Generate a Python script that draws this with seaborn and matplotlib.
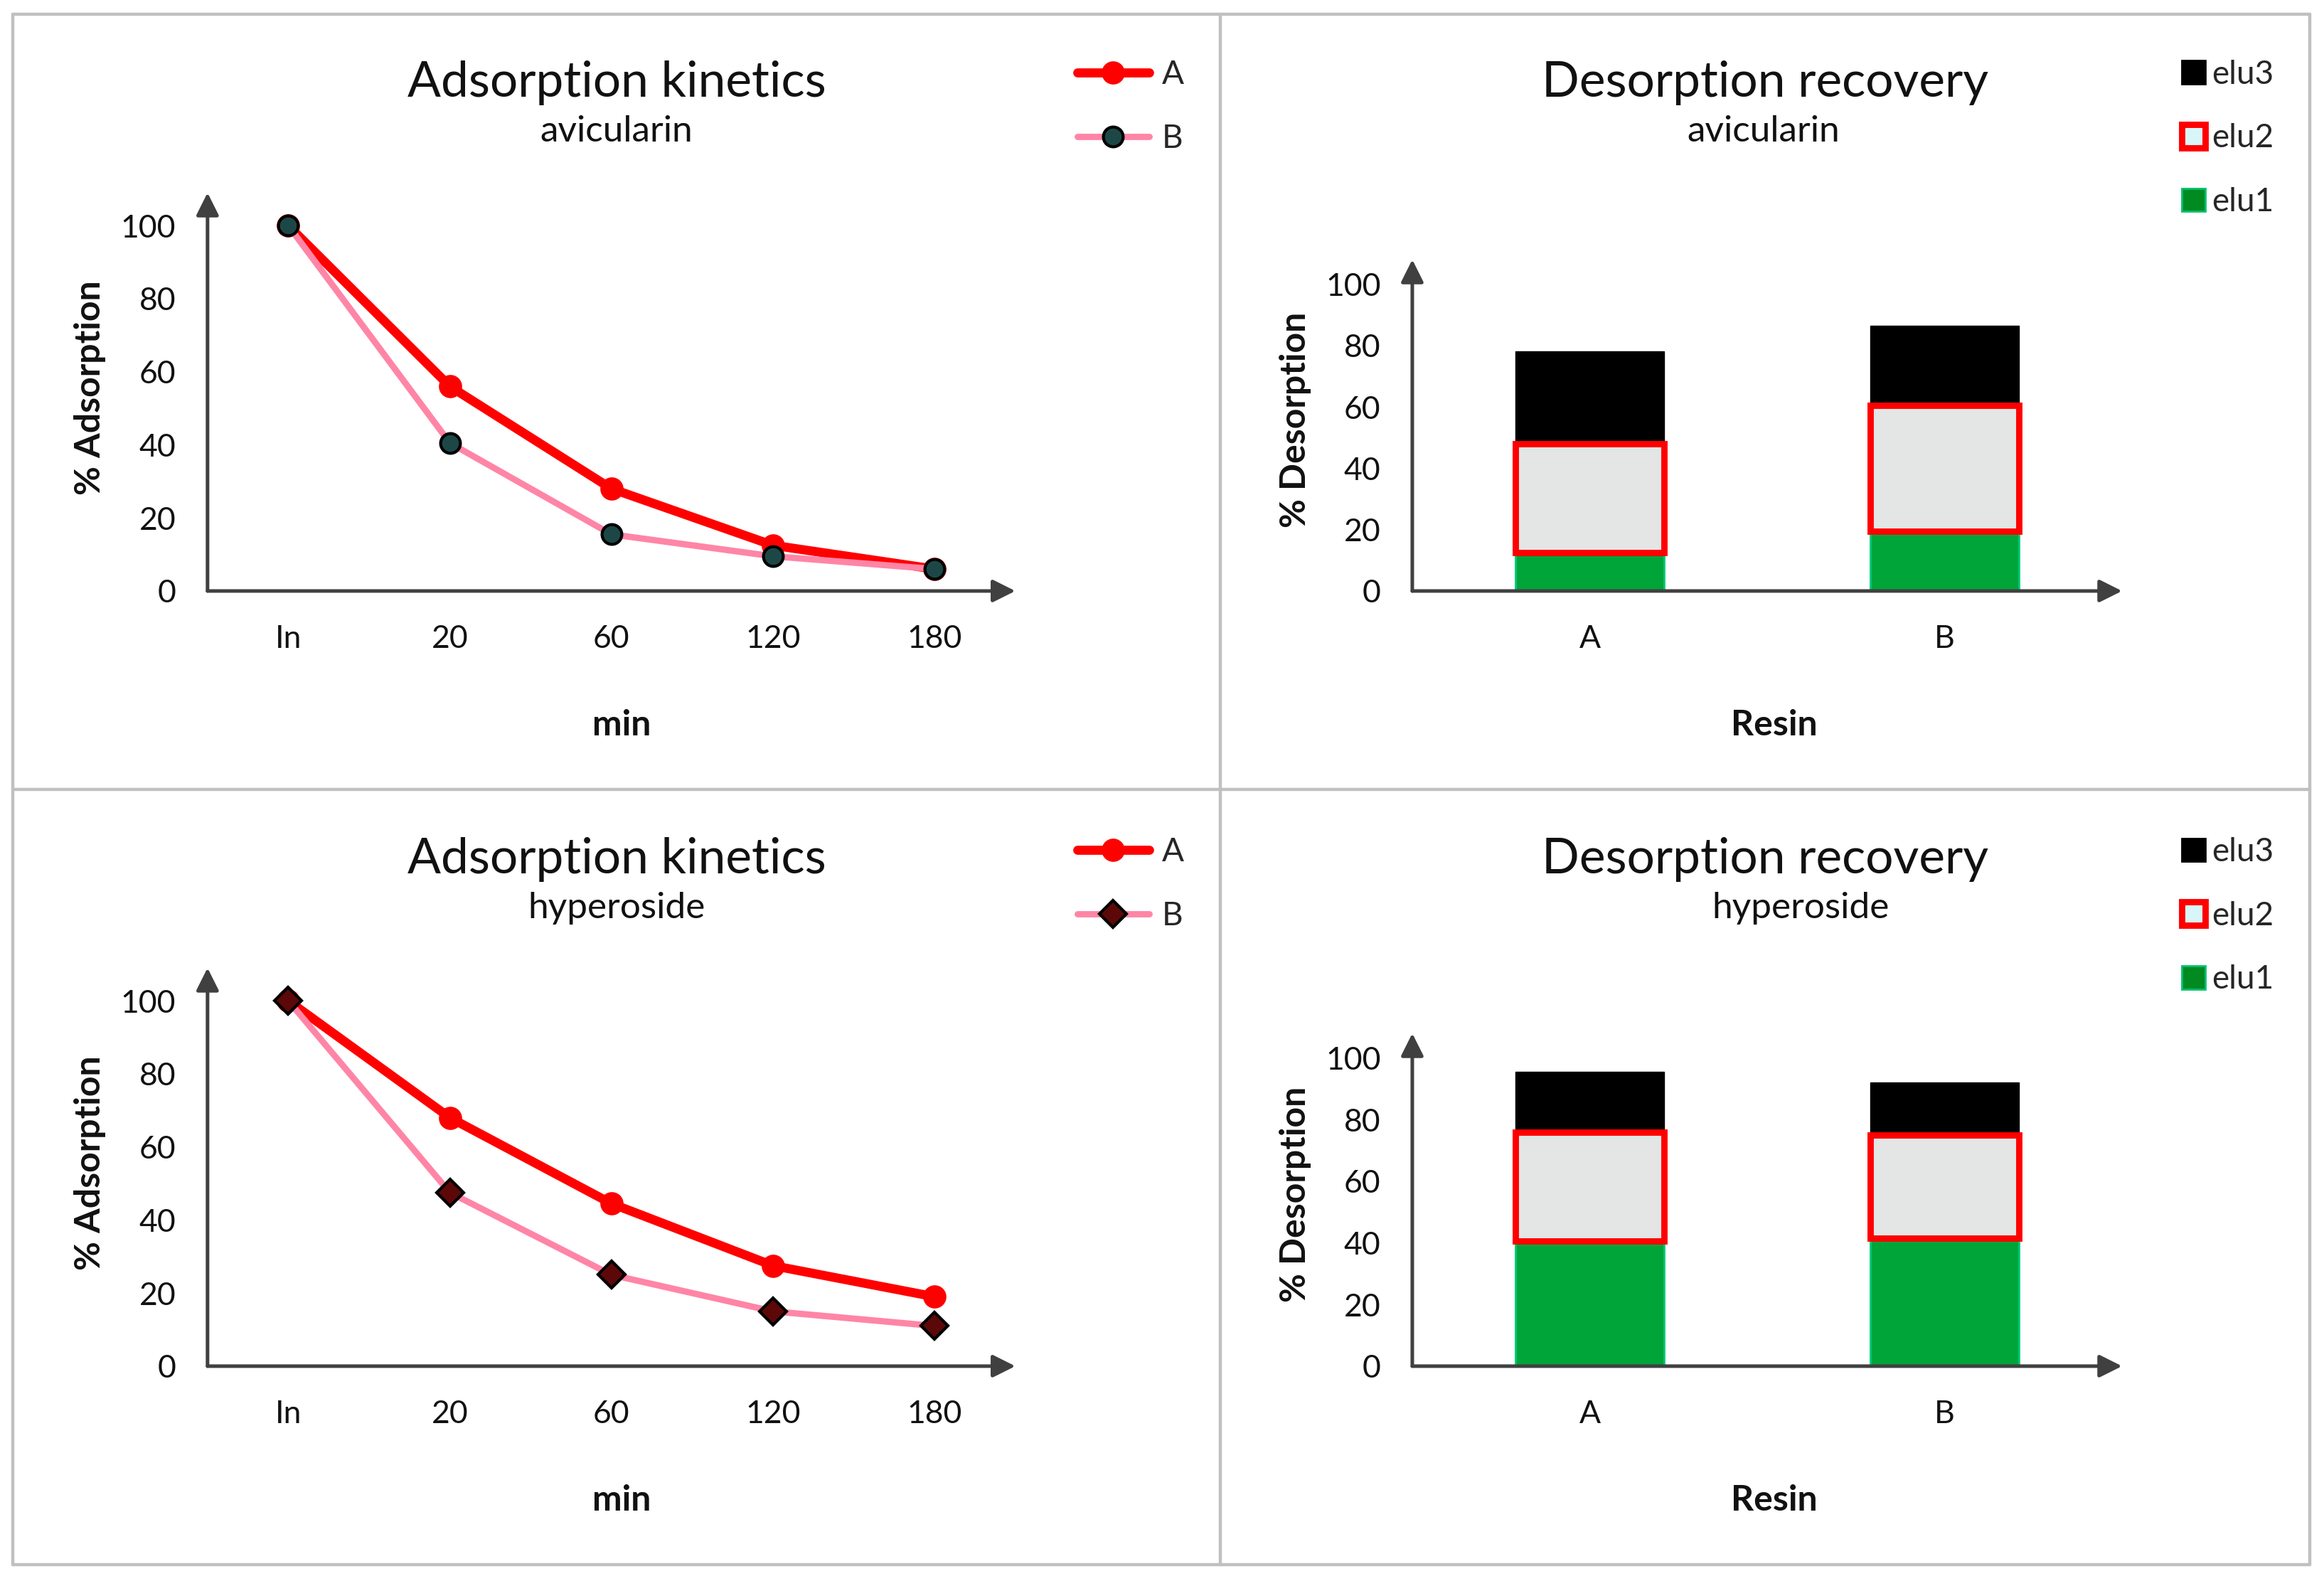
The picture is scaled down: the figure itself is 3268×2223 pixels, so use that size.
import numpy as np
import pandas as pd
import matplotlib
matplotlib.use("Agg")
import matplotlib.pyplot as plt
import seaborn as sns
from matplotlib.lines import Line2D
from matplotlib.patches import Patch

# ---------------- data ----------------
time_labels = ["In", "20", "60", "120", "180"]
avic_A = [100, 56, 28, 12.5, 6]
avic_B = [100, 40.5, 15.5, 9.5, 6]
hyper_A = [100, 68, 44.5, 27.5, 19]
hyper_B = [100, 47.5, 25, 15, 11]

resins = ["A", "B"]
avic_elu1 = [12.5, 19.5]
avic_elu2 = [35.5, 41]
avic_elu3 = [30, 26]
hyper_elu1 = [40.5, 41.5]
hyper_elu2 = [35.5, 33.5]
hyper_elu3 = [19.5, 17]

compounds = ["avicularin", "hyperoside"]

# ---------------- style ----------------
sns.set_theme(style="white")
plt.rcParams["font.family"] = ["Lato", "DejaVu Sans"]

W, H = 3268, 2223
fig = plt.figure(figsize=(W / 200, H / 200), dpi=200)

AX_COL = "#404040"
TXT_COL = "#111111"
TICK_FS = 16
LAB_FS = 18
TITLE_FS = 25
SUB_FS = 18.5
LEG_FS = 16.5


def fx(px):
    return px / W


def fy(py):
    return 1 - py / H


# panel frame lines
frame_kw = dict(color="#c0c0c0", lw=1.6, transform=fig.transFigure)
x0, x1, xm = 18, 3248, 1716
y0, y1, ym = 20, 2200, 1110
for (xa, ya, xb, yb) in [(x0, y0, x1, y0), (x0, y1, x1, y1), (x0, y0, x0, y1),
                         (x1, y0, x1, y1), (xm, y0, xm, y1), (x0, ym, x1, ym)]:
    fig.add_artist(Line2D([fx(xa), fx(xb)], [fy(ya), fy(yb)], **frame_kw))


def arrows(ax):
    for s in ax.spines.values():
        s.set_visible(False)
    kw = dict(arrowstyle="-|>", color=AX_COL, lw=1.8, mutation_scale=24,
              shrinkA=0, shrinkB=0)
    ax.annotate("", xy=(1, 0), xytext=(0, 0), xycoords="axes fraction",
                textcoords="axes fraction", arrowprops=kw, annotation_clip=False)
    ax.annotate("", xy=(0, 1), xytext=(0, 0), xycoords="axes fraction",
                textcoords="axes fraction", arrowprops=kw, annotation_clip=False)
    ax.tick_params(axis="both", length=0, labelsize=TICK_FS, labelcolor=TXT_COL)
    ax.tick_params(axis="x", pad=17)
    ax.tick_params(axis="y", pad=16)
    ax.grid(False)
    ax.set_facecolor("none")


# ---------------- line panels ----------------
line_rows = [
    (avic_A, avic_B, "o", "#1d4747", 0.2519, 0.6262),
    (hyper_A, hyper_B, "D", "#5c0808", 0.2519, 0.1359),
]
pos = np.arange(len(time_labels))
for i, (ya, yb, mk_b, fc_b, hgt, bot) in enumerate(line_rows):
    ax = fig.add_axes([0.0893, bot, 0.3476, hgt])
    dfA = pd.DataFrame({"t": pos, "v": ya})
    dfB = pd.DataFrame({"t": pos, "v": yb})
    sns.lineplot(data=dfA, x="t", y="v", ax=ax, color="#ff0000", lw=4.6,
                 marker="o", markersize=11, markerfacecolor="#ff0000",
                 markeredgecolor="#ff0000", label="A", zorder=3)
    sns.lineplot(data=dfB, x="t", y="v", ax=ax, color="#ff85a6", lw=3.2,
                 marker=mk_b, markersize=10 if mk_b == "o" else 9.5,
                 markerfacecolor=fc_b, markeredgecolor="black",
                 markeredgewidth=1.5, label="B", zorder=4)
    if ax.get_legend() is not None:
        ax.get_legend().remove()
    ax.set_xlim(-0.5, 4.5)
    ax.set_ylim(0, 109)
    ax.set_xticks(pos)
    ax.set_xticklabels(time_labels)
    ax.set_yticks(np.arange(0, 101, 20))
    arrows(ax)
    ax.set_xlabel("min", fontsize=LAB_FS, fontweight="bold", color=TXT_COL)
    ax.set_ylabel("% Adsorption", fontsize=LAB_FS, fontweight="bold", color=TXT_COL)
    ax.xaxis.set_label_coords(0.513, -0.297)
    ax.yaxis.set_label_coords(-0.126, 0.51)
    ty = 116 if i == 0 else 1208
    fig.text(fx(867), fy(ty), "Adsorption kinetics", fontsize=TITLE_FS,
             ha="center", va="center", color=TXT_COL)
    fig.text(fx(867), fy(ty + 69), compounds[i], fontsize=SUB_FS,
             ha="center", va="center", color=TXT_COL)
    h, l = ax.get_legend_handles_labels()
    ly = 0.9623 if i == 0 else 0.4705
    fig.legend(h, l, loc="upper left", bbox_to_anchor=(0.4635, ly),
               frameon=False, fontsize=LEG_FS, handlelength=2.2,
               handletextpad=0.4, labelspacing=1.05, borderpad=0,
               borderaxespad=0)

# ---------------- bar panels ----------------
bar_rows = [
    (avic_elu1, avic_elu2, avic_elu3, 0.6262, 0.2096, 2482, 2480),
    (hyper_elu1, hyper_elu2, hyper_elu3, 0.1359, 0.2105, 2482, 2532),
]
GREEN = "#00a53a"
for i, (e1, e2, e3, bot, hgt, tx, sx) in enumerate(bar_rows):
    ax = fig.add_axes([0.6077, bot, 0.3054, hgt])
    df = pd.DataFrame({"resin": resins, "e1": e1, "e2": e2, "e3": e3})
    b2 = np.array(e1)
    b3 = np.array(e1) + np.array(e2)
    sns.barplot(data=df, x="resin", y="e1", ax=ax, color=GREEN, width=0.42,
                saturation=1, edgecolor="#00c87a", linewidth=1.0, zorder=2)
    sns.barplot(data=df, x="resin", y="e2", ax=ax, color="#e4e6e6", width=0.42,
                saturation=1, bottom=b2, edgecolor="#ff0000", linewidth=3.2,
                zorder=3)
    sns.barplot(data=df, x="resin", y="e3", ax=ax, color="black", width=0.42,
                saturation=1, bottom=b3, edgecolor="black", linewidth=0.5,
                zorder=2)
    ax.set_xlim(-0.5, 1.5)
    ax.set_ylim(0, 108)
    ax.set_yticks(np.arange(0, 101, 20))
    arrows(ax)
    ax.set_xlabel("Resin", fontsize=LAB_FS, fontweight="bold", color=TXT_COL)
    ax.set_ylabel("% Desorption", fontsize=LAB_FS, fontweight="bold", color=TXT_COL)
    ax.xaxis.set_label_coords(0.51, -0.357 if i == 0 else -0.355)
    ax.yaxis.set_label_coords(-0.142, 0.516)
    ty = 116 if i == 0 else 1208
    fig.text(fx(tx), fy(ty), "Desorption recovery", fontsize=TITLE_FS,
             ha="center", va="center", color=TXT_COL)
    fig.text(fx(sx), fy(ty + 69), compounds[i], fontsize=SUB_FS,
             ha="center", va="center", color=TXT_COL)
    handles = [
        Patch(facecolor="black", edgecolor="black", label="elu3"),
        Patch(facecolor="#d8f6f8", edgecolor="#ff0000", lw=3.2, label="elu2"),
        Patch(facecolor="#008a20", edgecolor="#00c070", lw=1, label="elu1"),
    ]
    ly = 0.9623 if i == 0 else 0.4705
    fig.legend(handles=handles, loc="upper left", bbox_to_anchor=(0.9388, ly),
               frameon=False, fontsize=LEG_FS, handlelength=0.72,
               handleheight=0.72, handletextpad=0.2, labelspacing=1.04,
               borderpad=0, borderaxespad=0)

fig.savefig("out.png", dpi=200, facecolor="white")
